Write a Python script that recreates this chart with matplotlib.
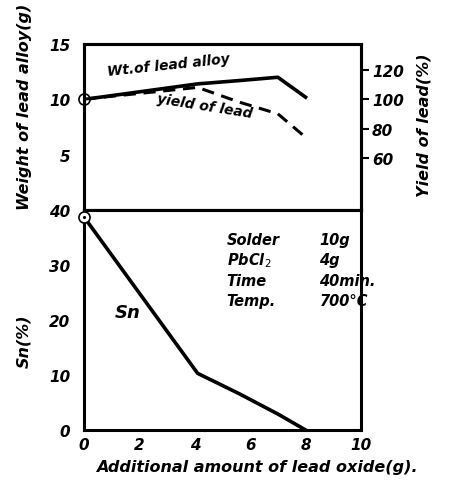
import matplotlib.pyplot as plt

# Data
oxide = [0, 4.1, 5.6, 7.0, 8.0]
wt_alloy = [10.0, 11.4, 11.7, 12.0, 10.2]
yield_pb = [100, 108, 98, 90, 74]
sn_pct = [38.7, 10.3, 6.6, 2.9, 0.0]

x_ticks = [0, 2, 4, 6, 8, 10]
wt_ticks = [5, 10, 15]
yield_ticks = [60, 80, 100, 120]
sn_ticks = [0, 10, 20, 30, 40]

conditions = [("Solder", "10g"), ("PbCl$_2$", "4g"), ("Time", "40min."), ("Temp.", "700°C")]

plt.rcParams['font.family'] = ['DejaVu Sans']
tk = dict(style='italic', fontsize=11, weight='bold')
lab = dict(style='italic', fontsize=11.5, weight='bold')

fig = plt.figure(figsize=(4.5, 4.81), dpi=100)
ax1 = fig.add_axes([0.187, 0.5613, 0.615, 0.345])
ax2 = fig.add_axes([0.187, 0.104, 0.615, 0.4573])

for ax in (ax1, ax2):
    for s in ax.spines.values():
        s.set_linewidth(2.2)
    ax.set_xlim(0, 10)

# Top panel: weight of lead alloy and yield of lead
ax1.plot(oxide, wt_alloy, color='k', lw=2.6)
ax1.set_ylim(0, 15)
ax1.set_yticks(wt_ticks)
ax1.set_yticklabels([str(t) for t in wt_ticks], **tk)
ax1.set_xticks([])
ax1.tick_params(axis='y', length=0, pad=10)
ax1.set_ylabel("Weight of lead alloy(g)", **lab)
ax1.yaxis.set_label_coords(-0.19, 0.63)
ax1.plot([0], [10], 'o', ms=8, mfc='white', mec='k', mew=1.2, clip_on=False, zorder=5)
ax1.plot([0], [10], '.', ms=2.5, color='k', clip_on=False, zorder=6)

ax1r = ax1.twinx()
ax1r.plot(oxide, yield_pb, color='k', lw=2.2, ls=(0, (4, 2.5)))
ax1r.set_ylim(24.5, 137.5)
ax1r.set_yticks(yield_ticks)
ax1r.set_yticklabels([str(t) for t in yield_ticks], **tk)
ax1r.tick_params(axis='y', length=6, width=1.5, pad=2)
ax1r.set_ylabel("Yield of lead(%)", **lab)
ax1r.yaxis.set_label_coords(1.2, 0.52)
for s in ax1r.spines.values():
    s.set_linewidth(2.2)

ax1.text(0.8, 12.2, "Wt.of lead alloy", rotation=6, fontsize=10, style='italic', weight='bold')
ax1.text(2.6, 8.4, "yield of lead", rotation=-9, fontsize=10, style='italic', weight='bold')

# Bottom panel: Sn content
ax2.plot(oxide, sn_pct, color='k', lw=2.6)
ax2.plot([0], [38.7], 'o', ms=8, mfc='white', mec='k', mew=1.2, clip_on=False, zorder=5)
ax2.plot([0], [38.7], '.', ms=2.5, color='k', clip_on=False, zorder=6)
ax2.set_ylim(0, 40)
ax2.set_yticks(sn_ticks)
ax2.set_yticklabels([str(t) for t in sn_ticks], **tk)
ax2.set_xticks(x_ticks)
ax2.set_xticklabels([str(t) for t in x_ticks], **tk)
ax2.tick_params(axis='both', length=0, pad=5)
ax2.tick_params(axis='y', pad=10)
ax2.set_ylabel("Sn(%)", **lab)
ax2.yaxis.set_label_coords(-0.19, 0.41)
ax2.set_xlabel("Additional amount of lead oxide(g).", **lab)
ax2.xaxis.set_label_coords(0.625, -0.13)
ax2.text(1.1, 20.5, "Sn", fontsize=13, style='italic', weight='bold')

for i, (name, val) in enumerate(conditions):
    y = 33.8 - i * 3.7
    ax2.text(5.15, y, name, fontsize=10.5, style='italic', weight='bold', ha='left')
    ax2.text(8.5, y, val, fontsize=10.5, style='italic', weight='bold', ha='left')

fig.savefig("out.png", dpi=100)
